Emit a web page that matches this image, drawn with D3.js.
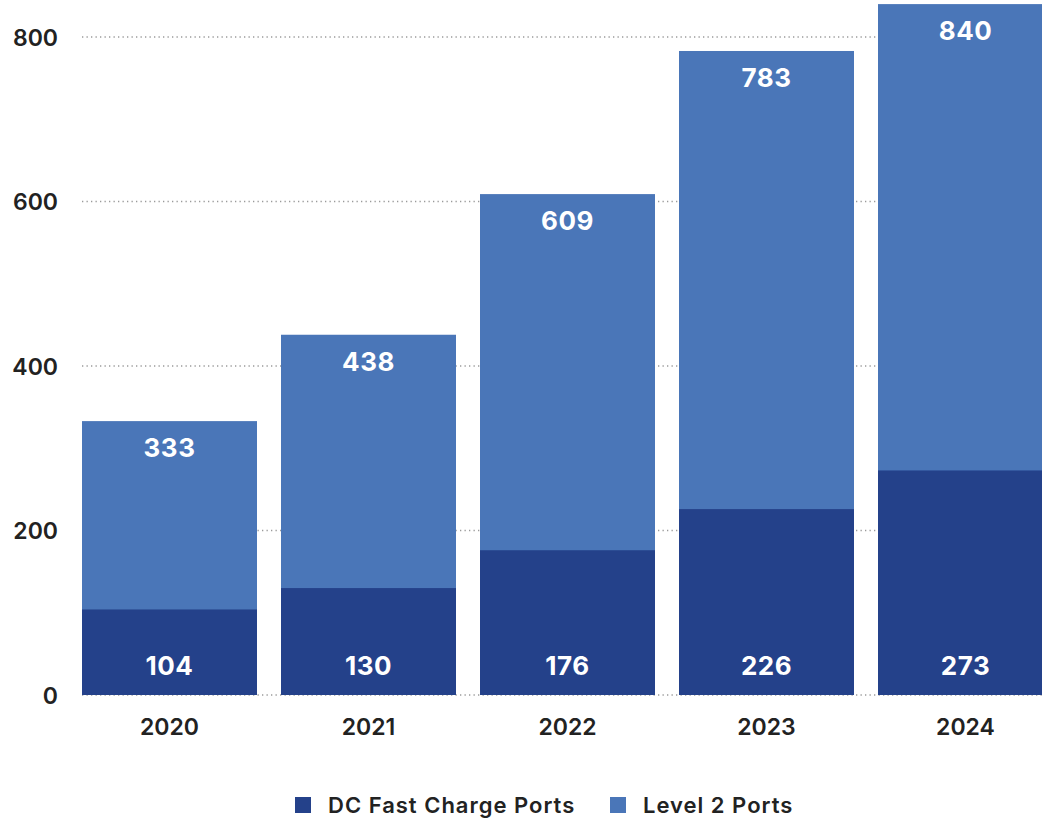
<!DOCTYPE html>
<html>
<head>
<meta charset="utf-8">
<script src="https://cdn.jsdelivr.net/npm/d3@7"></script>
<style>
  html, body { margin: 0; padding: 0; background: #fff; }
  svg { display: block; }
  text { font-family: "Inter", "Lato", sans-serif; }
</style>
</head>
<body>
<svg id="chart" width="1042" height="818"></svg>
<script>
const years = ["2020", "2021", "2022", "2023", "2024"];
const dcFastPorts = [104, 130, 176, 226, 273];
const level2Ports = [333, 438, 609, 783, 840];
const yTicks = [0, 200, 400, 600, 800];
const seriesNames = ["DC Fast Charge Ports", "Level 2 Ports"];
const seriesColors = ["#24418a", "#4a76b8"];

const svg = d3.select("#chart");
const W = 1042, H = 818;

const x = d3.scaleBand()
  .domain(years)
  .range([82, 1053])
  .paddingInner(24 / 199)
  .paddingOuter(0);

const y = d3.scaleLinear().domain([0, 800]).range([695, 37]);

// gridlines
const grid = svg.append("g");
grid.selectAll("line").data(yTicks).join("line")
  .attr("x1", 82).attr("x2", W)
  .attr("y1", d => y(d)).attr("y2", d => y(d))
  .attr("stroke", "#9a9a9a")
  .attr("stroke-width", 1.3)
  .attr("stroke-dasharray", "1.3,3.2");

// y axis labels
const yAxis = d3.axisLeft(y).tickValues(yTicks).tickSize(0).tickPadding(0);
const ya = svg.append("g").attr("transform", "translate(58,0)").call(yAxis);
ya.select(".domain").remove();
ya.selectAll("text")
  .attr("font-family", "Inter, Lato, sans-serif")
  .attr("font-size", 23)
  .attr("font-weight", 600)
  .attr("fill", "#222")
  .attr("dy", "0.36em");

const rows = years.map((yr, i) => ({ yr, dc: dcFastPorts[i], l2: level2Ports[i] }));

// Level 2 bars (full height)
svg.append("g").selectAll("rect").data(rows).join("rect")
  .attr("x", d => x(d.yr))
  .attr("width", x.bandwidth())
  .attr("y", d => y(d.l2))
  .attr("height", d => y(0) - y(d.l2))
  .attr("fill", seriesColors[1]);

// DC bars overlaid
svg.append("g").selectAll("rect").data(rows).join("rect")
  .attr("x", d => x(d.yr))
  .attr("width", x.bandwidth())
  .attr("y", d => y(d.dc))
  .attr("height", d => y(0) - y(d.dc))
  .attr("fill", seriesColors[0]);

// value labels
svg.append("g").selectAll("text").data(rows).join("text")
  .attr("x", d => x(d.yr) + x.bandwidth() / 2)
  .attr("y", d => y(d.l2) + 27)
  .attr("dy", "0.36em")
  .attr("text-anchor", "middle")
  .attr("font-size", 26)
  .attr("font-weight", 700)
  .attr("letter-spacing", 0.5)
  .attr("fill", "#fff")
  .text(d => d.l2);

svg.append("g").selectAll("text").data(rows).join("text")
  .attr("x", d => x(d.yr) + x.bandwidth() / 2)
  .attr("y", y(0) - 29)
  .attr("dy", "0.36em")
  .attr("text-anchor", "middle")
  .attr("font-size", 26)
  .attr("font-weight", 700)
  .attr("letter-spacing", 0.5)
  .attr("fill", "#fff")
  .text(d => d.dc);

// x axis labels
const xAxis = d3.axisBottom(x).tickSize(0).tickPadding(0);
const xa = svg.append("g").attr("transform", "translate(0,727)").call(xAxis);
xa.select(".domain").remove();
xa.selectAll("text")
  .attr("font-family", "Inter, Lato, sans-serif")
  .attr("font-size", 23)
  .attr("font-weight", 600)
  .attr("fill", "#222")
  .attr("dy", "0.36em");

// legend
const legendX = [295, 610];
const lg = svg.append("g");
seriesNames.forEach((name, i) => {
  lg.append("rect")
    .attr("x", legendX[i]).attr("y", 797)
    .attr("width", 16).attr("height", 16)
    .attr("fill", seriesColors[i]);
  lg.append("text")
    .attr("x", legendX[i] + 33).attr("y", 805)
    .attr("dy", "0.36em")
    .attr("font-size", 22)
    .attr("font-weight", 600)
    .attr("letter-spacing", 1)
    .attr("fill", "#222")
    .text(name);
});
</script>
</body>
</html>
